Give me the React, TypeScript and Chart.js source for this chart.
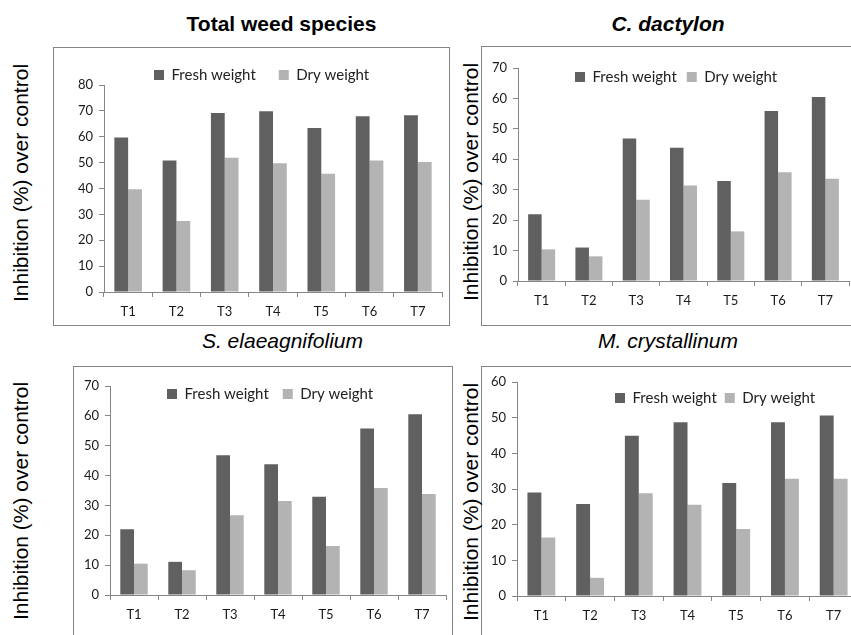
import React, { useEffect, useRef } from "react";
import { Chart, registerables } from "chart.js";

Chart.register(...registerables);

// ---------- data ----------
const categories = ["T1", "T2", "T3", "T4", "T5", "T6", "T7"];
const seriesNames = ["Fresh weight", "Dry weight"];
const yAxisTitle = "Inhibition (%) over control";

const totalFresh = [59.7, 50.8, 69.2, 69.9, 63.4, 67.9, 68.3];
const totalDry = [39.7, 27.4, 51.9, 49.8, 45.7, 50.8, 50.2];

const dactylonFresh = [21.9, 11.0, 46.8, 43.8, 32.9, 55.9, 60.5];
const dactylonDry = [10.4, 8.1, 26.7, 31.4, 16.3, 35.7, 33.6];

const elaeagnifoliumFresh = [22.0, 11.1, 46.8, 43.8, 32.9, 55.8, 60.5];
const elaeagnifoliumDry = [10.5, 8.3, 26.7, 31.5, 16.4, 35.8, 33.8];

const crystallinumFresh = [29.0, 25.8, 44.9, 48.7, 31.7, 48.7, 50.6];
const crystallinumDry = [16.4, 5.1, 28.8, 25.6, 18.8, 32.9, 32.9];

const panelTitles = ["Total weed species", "C. dactylon", "S. elaeagnifolium", "M. crystallinum"];
const yMaxes = [80, 70, 70, 60];
const yStep = 10;

// ---------- styles ----------
const FRESH = "#606060";
const DRY = "#b3b3b3";
const AXIS = "#868686";
const TICK_FONT = "Lato, 'DejaVu Sans', sans-serif";
const ARIAL = "'Liberation Sans', Arial, sans-serif";

type Layout = {
  left: number; top: number; width: number; height: number;
  yW: number; padTop: number; xH: number; padRight: number;
  legendX: number; legendY: number; legendPad: number;
};

function legendPlacer(x: number, y: number) {
  return {
    id: "legendPlacer",
    afterLayout(chart: any) {
      const lg = chart.legend;
      if (!lg) return;
      const pad = lg.options.labels.padding;
      lg.left = x - pad;
      lg.right = lg.left + 700;
      lg.width = 700;
      lg.top = y - pad - 7.5;
      lg.bottom = lg.top + pad + 30;
      lg.height = pad + 30;
    },
  };
}

function Panel(props: { fresh: number[]; dry: number[]; yMax: number; lay: Layout }) {
  const ref = useRef<HTMLCanvasElement | null>(null);
  const { fresh, dry, yMax, lay } = props;
  useEffect(() => {
    if (!ref.current) return;
    const chart = new Chart(ref.current, {
      type: "bar",
      data: {
        labels: categories,
        datasets: [
          { label: seriesNames[0], data: fresh, backgroundColor: FRESH, borderWidth: 0,
            categoryPercentage: 2 / 3.5, barPercentage: 1 },
          { label: seriesNames[1], data: dry, backgroundColor: DRY, borderWidth: 0,
            categoryPercentage: 2 / 3.5, barPercentage: 1 },
        ],
      },
      options: {
        animation: false,
        responsive: false,
        devicePixelRatio: 1,
        layout: { padding: { top: lay.padTop, right: lay.padRight, left: 0, bottom: 0 } },
        plugins: {
          legend: {
            display: true,
            position: "top",
            align: "start",
            maxHeight: 1,
            labels: {
              boxWidth: 10,
              boxHeight: 10,
              padding: lay.legendPad,
              color: "#222",
              font: { family: TICK_FONT, size: 15 },
            },
          },
          tooltip: { enabled: false },
          title: { display: false },
        },
        scales: {
          x: {
            type: "category",
            offset: true,
            afterFit: (s: any) => { s.height = lay.xH; },
            grid: { display: true, offset: true, drawOnChartArea: false, drawTicks: true, tickLength: 5, color: AXIS, lineWidth: 1 },
            border: { display: true, color: AXIS, width: 1 },
            ticks: { color: "#1a1a1a", font: { family: TICK_FONT, size: 13 }, padding: 7, maxRotation: 0 },
          },
          y: {
            min: 0,
            max: yMax,
            afterFit: (s: any) => { s.width = lay.yW; },
            grid: { display: true, drawOnChartArea: false, drawTicks: true, tickLength: 5, color: AXIS, lineWidth: 1 },
            border: { display: true, color: AXIS, width: 1 },
            ticks: { stepSize: yStep, color: "#1a1a1a", font: { family: TICK_FONT, size: 13 }, padding: 6 },
            title: { display: false },
          },
        },
      },
      plugins: [legendPlacer(lay.legendX, lay.legendY)],
    } as any);
    return () => chart.destroy();
  }, []);
  return (
    <canvas
      ref={ref}
      width={lay.width}
      height={lay.height}
      style={{ position: "absolute", left: lay.left, top: lay.top, width: lay.width, height: lay.height, display: "block" }}
    />
  );
}

const layouts: Layout[] = [
  { left: 0, top: 40, width: 450, height: 286, yW: 104, padTop: 44, xH: 34, padRight: 8, legendX: 154, legendY: 35, legendPad: 23 },
  { left: 452, top: 40, width: 399, height: 286, yW: 66, padTop: 27, xH: 45, padRight: 2, legendX: 123, legendY: 37, legendPad: 10 },
  { left: 0, top: 360, width: 453, height: 275, yW: 110, padTop: 25, xH: 40, padRight: 7, legendX: 167, legendY: 34, legendPad: 14 },
  { left: 452, top: 360, width: 408, height: 275, yW: 65, padTop: 21, xH: 39, padRight: 2, legendX: 163, legendY: 38, legendPad: 8 },
];

const boxes = [
  { left: 53, top: 47, width: 397, height: 279 },
  { left: 481, top: 46, width: 420, height: 280 },
  { left: 73, top: 366, width: 380, height: 320 },
  { left: 481, top: 366, width: 420, height: 320 },
];

const titlePos = [
  { cx: 281.5, top: 11.5, bold: true, italic: false },
  { cx: 668, top: 11.5, bold: true, italic: true },
  { cx: 282.5, top: 328.5, bold: false, italic: true },
  { cx: 668, top: 328.5, bold: false, italic: true },
];

const yTitlePos = [
  { cx: 21, cy: 182.5 },
  { cx: 471, cy: 182 },
  { cx: 21, cy: 501 },
  { cx: 471, cy: 502 },
];

export default function App() {
  const fresh = [totalFresh, dactylonFresh, elaeagnifoliumFresh, crystallinumFresh];
  const dry = [totalDry, dactylonDry, elaeagnifoliumDry, crystallinumDry];
  return (
    <div style={{ position: "absolute", left: 0, top: 0, width: 851, height: 635, overflow: "hidden", background: "#fff" }}>
      {boxes.map((b, i) => (
        <div key={"b" + i} style={{ position: "absolute", left: b.left, top: b.top, width: b.width, height: b.height, border: "1px solid #858585", boxSizing: "border-box" }} />
      ))}
      {titlePos.map((t, i) => (
        <div key={"t" + i} style={{
          position: "absolute", left: t.cx - 200, top: t.top, width: 400, textAlign: "center",
          fontFamily: ARIAL, fontSize: 21, lineHeight: "24px", color: "#000",
          fontWeight: t.bold ? "bold" : "normal", fontStyle: t.italic ? "italic" : "normal", whiteSpace: "nowrap",
        }}>{panelTitles[i]}</div>
      ))}
      {yTitlePos.map((p, i) => (
        <div key={"y" + i} style={{
          position: "absolute", left: p.cx - 150, top: p.cy - 12, width: 300, height: 24,
          textAlign: "center", fontFamily: ARIAL, fontSize: 21, lineHeight: "24px", color: "#000",
          whiteSpace: "nowrap", transform: "rotate(-90deg)", transformOrigin: "50% 50%",
        }}>{yAxisTitle}</div>
      ))}
      {layouts.map((lay, i) => (
        <Panel key={"p" + i} fresh={fresh[i]} dry={dry[i]} yMax={yMaxes[i]} lay={lay} />
      ))}
    </div>
  );
}
